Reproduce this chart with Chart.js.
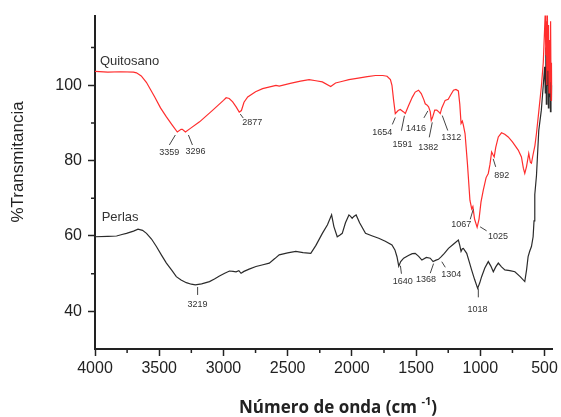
<!DOCTYPE html>
<html>
<head>
  <meta charset="utf-8" />
  <title>FTIR Quitosano / Perlas</title>
  <style>
    body { margin: 0; background: #fff; }
    #chart { display: block; }
  </style>
</head>
<body>
  <canvas id="chart" width="561" height="417"></canvas>

  <script src="https://cdn.jsdelivr.net/npm/chart.js"></script>
  <script>
    // wavenumbers (cm-1) and %T
    const quitosanoWn = [4000, 3900, 3800, 3700, 3677, 3640, 3600, 3535, 3490, 3444, 3400, 3359, 3330, 3320, 3296, 3260,
      3186, 3083, 3000, 2979, 2955, 2928, 2900, 2877, 2860, 2840, 2811, 2750, 2695, 2591, 2566, 2480, 2400, 2333,
      2280, 2230, 2165, 2127, 2080, 2023, 1950, 1880, 1816, 1760, 1726, 1700, 1688, 1675, 1662, 1640, 1623, 1600,
      1584, 1560, 1530, 1507, 1481, 1460, 1440, 1429, 1416, 1403, 1390, 1382, 1372, 1355, 1339, 1320, 1312, 1300,
      1274, 1250, 1230, 1209, 1190, 1171, 1160, 1150, 1140, 1132, 1119, 1100, 1081, 1067, 1058, 1045, 1025, 1010,
      995, 977, 955, 938, 925, 912, 900, 892, 880, 860, 835, 810, 783, 750, 705, 680, 665, 654, 640, 630, 623, 610,
      602, 590, 575, 563, 545, 525, 510, 499, 495, 490, 486, 482, 478, 473, 469, 465, 461, 457, 453, 449, 445, 441];
    const quitosanoT = [103.7, 103.5, 103.6, 103.5, 103.3, 102.5, 100.8, 96.9, 94, 91.6, 89.5, 87.6, 88.3, 88.3, 87.6, 88.5,
      90.3, 93.4, 96.0, 96.7, 96.5, 95.6, 94.2, 92.9, 93.3, 95.5, 96.9, 98.3, 99.1, 100, 99.8, 100.5, 101.1, 101.5,
      101.2, 100.9, 99.7, 100.6, 101.0, 101.5, 101.9, 102.3, 102.6, 102.6, 102.4, 101.5, 100, 96, 92.5, 93.3, 93.6, 93.0,
      92.5, 94.5, 96.8, 98.2, 98.7, 97.8, 96.2, 95.1, 94.8, 94.3, 93.0, 90.7, 91.5, 93.4, 93.4, 92.8, 92.5, 94,
      96, 96.3, 97.5, 98.7, 98.9, 98.5, 95, 89.9, 90.5, 89.4, 87.2, 79, 69.5, 67.2, 67.8, 64.5, 62.3, 64.5,
      69, 72.2, 75.5, 76.6, 79, 82.3, 81.5, 81, 83.5, 86.3, 87.4, 87, 86.3, 85, 82.8, 81, 78, 76.6, 78.5, 80.5, 81.9, 79.5,
      79.3, 81.5, 84, 87.2, 93, 99.6, 106, 115.5, 119, 108, 117, 100, 119, 104, 116, 98, 112, 101, 117, 96, 106, 100];

    const perlasWn = [4000, 3900, 3832, 3790, 3755, 3700, 3665, 3630, 3599, 3560, 3522, 3480, 3444, 3400, 3367, 3330, 3289,
      3250, 3219, 3170, 3109, 3070, 3031, 2990, 2953, 2925, 2902, 2880, 2863, 2840, 2800, 2747, 2700, 2643, 2600, 2566,
      2500, 2437, 2380, 2320, 2280, 2230, 2190, 2158, 2140, 2114, 2095, 2075, 2050, 2023, 2010, 1998, 1985, 1967, 1940,
      1894, 1840, 1791, 1740, 1688, 1665, 1649, 1635, 1620, 1597, 1560, 1530, 1507, 1480, 1455, 1420, 1390, 1368, 1345,
      1326, 1304, 1280, 1248, 1210, 1171, 1160, 1150, 1140, 1132, 1106, 1085, 1068, 1045, 1021, 1005, 990, 965, 938, 918,
      899, 880, 860, 835, 809, 770, 731, 690, 654, 640, 628, 615, 602, 589, 582, 576, 563, 545, 525, 510, 499, 494, 490,
      486, 482, 478, 474, 470, 466, 462, 458, 454, 450, 446, 441];
    const perlasT = [59.8, 59.9, 60, 60.4, 60.7, 61.3, 61.8, 61.5, 60.7, 59.2, 57.2, 54.8, 52.8, 50.8, 49.2, 48.3, 47.6,
      47.2, 47.0, 47.3, 47.9, 48.6, 49.4, 50.1, 50.7, 50.6, 50.5, 50.8, 50.1, 50.6, 51.2, 51.9, 52.3, 52.8, 54, 55,
      55.5, 55.9, 55.6, 55.4, 57.5, 60.7, 63, 65.6, 62.5, 59.8, 60.2, 60.7, 63.5, 65.6, 65.2, 64.7, 65.2, 65.6, 63.5,
      60.7, 60.0, 59.4, 58.6, 57.6, 56.3, 54.5, 52.0, 53.2, 54.1, 54.8, 55.3, 55.4, 54.6, 53.6, 54.3, 54.1, 53.2, 53.6,
      53.8, 54.5, 55.4, 56.7, 57.8, 58.9, 57.5, 55.9, 56.6, 56.7, 55.4, 53, 51, 48.5, 46.1, 47.5, 49.2, 51.5, 53.2, 52,
      50.5, 51.8, 52.8, 51.8, 51, 50.8, 50.5, 49.2, 47.9, 51, 54.5, 56, 57.2, 59.8, 64, 71, 76, 88, 93.4, 100, 104.9, 98, 110,
      95, 108, 100, 111, 94, 106, 97, 109, 93, 103, 96, 100];

    // marked bands
    const quitosanoPeaks = [3359, 3296, 2877, 1654, 1591, 1416, 1382, 1312, 892, 1067, 1025];
    const perlasPeaks = [3219, 1640, 1368, 1304, 1018];

    const xTickValues = [4000, 3500, 3000, 2500, 2000, 1500, 1000, 500];
    const xMinorValues = [3750, 3250, 2750, 2250, 1750, 1250, 750];
    const yTickValues = [40, 60, 80, 100];
    const yMinorValues = [50, 70, 90, 110];

    // leader line / label offsets in px from the band point: [x0, y0, x1, y1, labelX, labelY]
    const quitosanoPeakOffsets = [
      [-2, 3, -8, 13, -8, 21], [3, 3, 7, 13, 10, 20], [1, 2, 4, 6, 13, 10.5],
      [-1, 5, -4, 12, -14, 20], [0, 3, -3, 18, -2, 32], [1, 6, -3, 13, -11, 24],
      [1, 2, -2, 17, -3, 27], [2, 2, 7.5, 17, 11, 24], [-1, 2, 1.5, 10, 7.5, 19],
      [1.5, 0.5, -1.5, 10.5, -10.5, 16], [3, -0.5, 9.5, 3.5, 21, 9.5]
    ];
    const perlasPeakOffsets = [
      [2.3, 2, 2.3, 10, 2.3, 20], [2.3, 3, 3.3, 11, 4.6, 19], [0.5, 2, -2.8, 11.6, -7, 18.3],
      [0.5, 5, 4, 10.6, 10, 17.6], [0.3, 1, 0.3, 10, -0.4, 21.7]
    ];

    const TICK_FONT = { family: "'Liberation Sans', Arial, sans-serif", size: 16 };
    const TEXT = '#222';

    function valueAt(wn, vals, w) {
      for (let i = 0; i < wn.length - 1; i++) {
        if (w <= wn[i] && w >= wn[i + 1]) {
          const t = (wn[i] - w) / (wn[i] - wn[i + 1]);
          return vals[i] + t * (vals[i + 1] - vals[i]);
        }
      }
      return vals[vals.length - 1];
    }

    const minorTicks = {
      id: 'minorTicks',
      afterDraw(chart) {
        const { ctx, scales: { x, y } } = chart;
        ctx.save();
        ctx.strokeStyle = TEXT;
        ctx.lineWidth = 1.5;
        ctx.beginPath();
        xMinorValues.forEach(v => {
          const px = x.getPixelForValue(v);
          ctx.moveTo(px, x.top);
          ctx.lineTo(px, x.top + 4);
        });
        yMinorValues.forEach(v => {
          const py = y.getPixelForValue(v);
          ctx.moveTo(y.right, py);
          ctx.lineTo(y.right - 4, py);
        });
        ctx.stroke();
        ctx.restore();
      }
    };

    const bandLabels = {
      id: 'bandLabels',
      afterDatasetsDraw(chart) {
        const { ctx, scales: { x, y } } = chart;
        ctx.save();
        ctx.strokeStyle = '#444';
        ctx.fillStyle = '#333';
        ctx.lineWidth = 1;
        ctx.font = "9px 'Liberation Sans', Arial, sans-serif";
        ctx.textAlign = 'center';
        ctx.textBaseline = 'middle';
        const draw = (peaks, offs, wn, vals) => {
          peaks.forEach((p, i) => {
            const o = offs[i];
            const px = x.getPixelForValue(p);
            const py = y.getPixelForValue(valueAt(wn, vals, p));
            ctx.beginPath();
            ctx.moveTo(px + o[0], py + o[1]);
            ctx.lineTo(px + o[2], py + o[3]);
            ctx.stroke();
            ctx.fillText(String(p), px + o[4], py + o[5]);
          });
        };
        draw(quitosanoPeaks, quitosanoPeakOffsets, quitosanoWn, quitosanoT);
        draw(perlasPeaks, perlasPeakOffsets, perlasWn, perlasT);

        // series names
        ctx.font = "13px 'Liberation Sans', Arial, sans-serif";
        ctx.textAlign = 'left';
        ctx.fillText('Quitosano', x.getPixelForValue(3962), y.getPixelForValue(106.4));
        ctx.fillText('Perlas', x.getPixelForValue(3948), y.getPixelForValue(64.8));
        ctx.restore();
      }
    };

    const axisTitles = {
      id: 'axisTitles',
      afterDraw(chart) {
        const { ctx } = chart;
        ctx.save();
        ctx.fillStyle = TEXT;
        ctx.textBaseline = 'middle';

        // y title
        ctx.save();
        ctx.translate(18, 162);
        ctx.rotate(-Math.PI / 2);
        ctx.textAlign = 'center';
        ctx.font = "17px 'Liberation Sans', Arial, sans-serif";
        ctx.fillText('%Transmitancia', 0, 0);
        ctx.restore();

        // x title with superscript
        const main = 'Número de onda (cm ';
        const sup = '-1';
        const end = ')';
        const fMain = "bold 17px 'Open Sans', sans-serif";
        const fSup = "bold 11px 'Open Sans', sans-serif";
        ctx.font = fMain;
        const wMain = ctx.measureText(main).width;
        const wEnd = ctx.measureText(end).width;
        ctx.font = fSup;
        const wSup = ctx.measureText(sup).width;
        const total = wMain + wSup + wEnd;
        let cx = 338 - total / 2;
        const cy = 408;
        ctx.textAlign = 'left';
        ctx.font = fMain;
        ctx.fillText(main, cx, cy);
        cx += wMain;
        ctx.font = fSup;
        ctx.fillText(sup, cx, cy - 6);
        cx += wSup;
        ctx.font = fMain;
        ctx.fillText(end, cx, cy);
        ctx.restore();
      }
    };

    const toPoints = (wn, vals) => wn.map((w, i) => ({ x: w, y: vals[i] }));

    new Chart(document.getElementById('chart').getContext('2d'), {
      type: 'line',
      data: {
        datasets: [
          {
            label: 'Quitosano',
            data: toPoints(quitosanoWn, quitosanoT),
            borderColor: 'rgb(255, 45, 45)',
            borderWidth: 1.2,
            pointRadius: 0,
            tension: 0
          },
          {
            label: 'Perlas',
            data: toPoints(perlasWn, perlasT),
            borderColor: '#2b2b2b',
            borderWidth: 1.2,
            pointRadius: 0,
            tension: 0
          }
        ]
      },
      options: {
        responsive: false,
        animation: false,
        devicePixelRatio: 1,
        layout: { padding: { top: 15, right: 6, left: 0, bottom: 0 } },
        plugins: {
          legend: { display: false },
          tooltip: { enabled: false }
        },
        scales: {
          x: {
            type: 'linear',
            reverse: true,
            min: 440,
            max: 4000,
            afterBuildTicks: s => { s.ticks = xTickValues.map(v => ({ value: v })); },
            afterFit: s => { s.height = 68; },
            ticks: { font: TICK_FONT, color: TEXT, padding: 3, maxRotation: 0, autoSkip: false, callback: v => String(v) },
            grid: { drawOnChartArea: false, tickLength: 7, tickWidth: 1.5, tickColor: TEXT },
            border: { color: TEXT, width: 2 }
          },
          y: {
            min: 30,
            max: 118.5,
            afterBuildTicks: s => { s.ticks = yTickValues.map(v => ({ value: v })); },
            afterFit: s => { s.width = 95; },
            ticks: { font: TICK_FONT, color: TEXT, padding: 6, callback: v => String(v) },
            grid: { drawOnChartArea: false, tickLength: 7, tickWidth: 1.5, tickColor: TEXT },
            border: { color: TEXT, width: 2 }
          }
        }
      },
      plugins: [minorTicks, bandLabels, axisTitles]
    });
  </script>
</body>
</html>
